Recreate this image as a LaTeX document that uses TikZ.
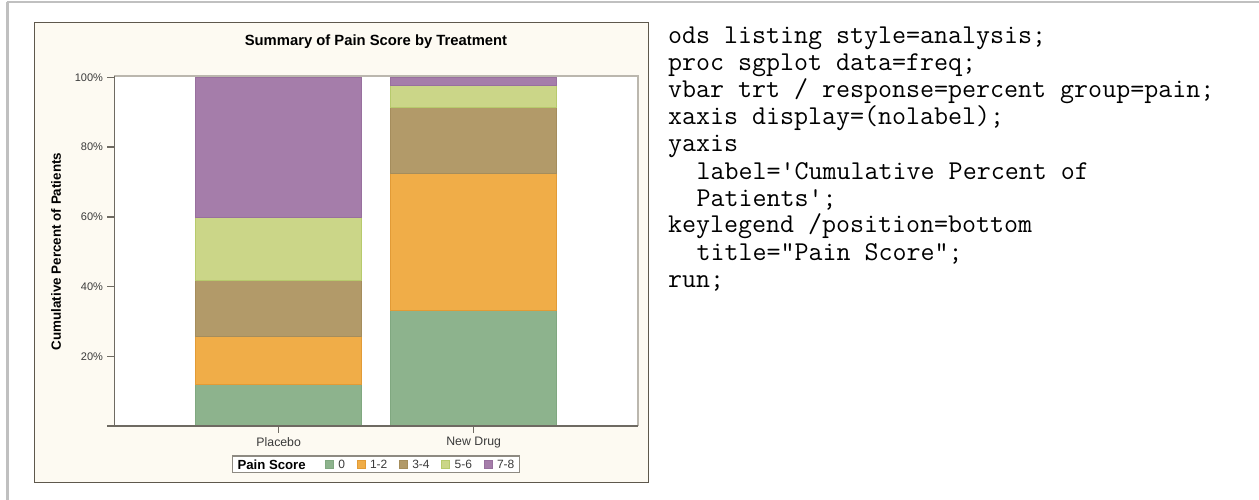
\documentclass[tikz,border=0pt]{standalone}
\usepackage{fontspec}
\setmainfont{Liberation Sans}
\setmonofont{Latin Modern Mono}
\definecolor{panelbg}{HTML}{FDFAF2}
\definecolor{panelline}{HTML}{5E584C}
\definecolor{framegray}{HTML}{C0C0C0}
\definecolor{axisgray}{HTML}{6E6A62}
\definecolor{walllight}{HTML}{BBB7AE}
\definecolor{tickgray}{HTML}{3A3A3A}
\definecolor{legline}{HTML}{8E8A82}
\definecolor{cA}{HTML}{8DB38D}\definecolor{cAb}{HTML}{80A880}
\definecolor{cB}{HTML}{F0AD48}\definecolor{cBb}{HTML}{E29B36}
\definecolor{cC}{HTML}{B29A69}\definecolor{cCb}{HTML}{A58D5C}
\definecolor{cD}{HTML}{CBD688}\definecolor{cDb}{HTML}{B7CA6C}
\definecolor{cE}{HTML}{A57DAA}\definecolor{cEb}{HTML}{98709E}
\begin{document}
\begin{tikzpicture}[x=1pt,y=-1pt,
  every node/.style={inner sep=0pt, outer sep=0pt},
  codeline/.style={anchor=base west, font=\ttfamily\fontsize{27.2}{27}\selectfont, text=black},
  ticklabel/.style={anchor=east, font=\fontsize{11}{13}\selectfont, text=tickgray},
  catlabel/.style={font=\fontsize{12.3}{14}\selectfont, text=tickgray},
  leglabel/.style={anchor=west, font=\fontsize{12}{14}\selectfont, text=tickgray},
  segA/.style={fill=cA, draw=cAb, line width=0.8pt},
  segB/.style={fill=cB, draw=cBb, line width=0.8pt},
  segC/.style={fill=cC, draw=cCb, line width=0.8pt},
  segD/.style={fill=cD, draw=cDb, line width=0.8pt},
  segE/.style={fill=cE, draw=cEb, line width=0.8pt},
  axisline/.style={draw=axisgray, line width=1.2pt},
]
\useasboundingbox (0,0) rectangle (1259,500);
\fill[white] (0,0) rectangle (1259,500);
% outer frame lines
\draw[framegray, line width=2.2pt] (6.5,1.7) -- (1259,1.7);
\draw[framegray, line width=2.2pt] (7.5,1.7) -- (7.5,500);
% panel
\draw[fill=panelbg, draw=panelline, line width=1.3pt] (34.3,22.7) rectangle (648.7,482.7);
\node[font=\bfseries\fontsize{14.8}{17}\selectfont] (title) at (376,42) {Summary of Pain Score by Treatment};
% plot wall
\fill[white] (114.3,76) rectangle (637.7,426);
\draw[walllight, line width=2pt] (114.3,76) -- (637.7,76) -- (637.7,426);
% bars: Placebo
\draw[segA] (195.7,426) rectangle (361.7,384);
\draw[segB] (195.7,384) rectangle (361.7,336);
\draw[segC] (195.7,336) rectangle (361.7,280);
\draw[segD] (195.7,280) rectangle (361.7,217.7);
\draw[segE] (195.7,217.7) rectangle (361.7,77.3);
% bars: New Drug
\draw[segA] (390.7,426) rectangle (556.7,310);
\draw[segB] (390.7,310) rectangle (556.7,173);
\draw[segC] (390.7,173) rectangle (556.7,107);
\draw[segD] (390.7,107) rectangle (556.7,85.7);
\draw[segE] (390.7,85.7) rectangle (556.7,77.3);
% axes
\draw[axisline] (114.3,76) -- (114.3,426) -- (637.7,426);
\foreach \yy in {77.3,147.1,216.9,286.6,356.4,426}{
  \draw[axisline] (107,\yy) -- (114.3,\yy);
}
\node[ticklabel] (t100) at (103,77.3) {100\%};
\node[ticklabel] (t80) at (103,147.1) {80\%};
\node[ticklabel] (t60) at (103,216.9) {60\%};
\node[ticklabel] (t40) at (103,286.6) {40\%};
\node[ticklabel] (t20) at (103,356.4) {20\%};
\draw[axisline] (278.7,426) -- (278.7,432.5);
\draw[axisline] (473.7,426) -- (473.7,432.5);
\node[catlabel] (placebo) at (278.7,442.5) {Placebo};
\node[catlabel] (newdrug) at (473.7,442.5) {New Drug};
\node[rotate=90, font=\bfseries\fontsize{13.4}{16}\selectfont] (ylab) at (56,251.5) {Cumulative Percent of Patients};
% legend
\draw[fill=white, draw=legline, line width=1.3pt] (232.5,456) rectangle (519.5,472.7);
\node[anchor=west, font=\bfseries\fontsize{13.2}{15}\selectfont] (legtitle) at (237.5,464.6) {Pain Score};
\draw[segA] (325.3,460.6) rectangle (333.3,468.6);
\node[leglabel] (lA) at (338.3,464.6) {0};
\draw[segB] (357,460.6) rectangle (365,468.6);
\node[leglabel] (lB) at (370,464.6) {1-2};
\draw[segC] (399.3,460.6) rectangle (407.3,468.6);
\node[leglabel] (lC) at (412.3,464.6) {3-4};
\draw[segD] (441.6,460.6) rectangle (449.6,468.6);
\node[leglabel] (lD) at (454.6,464.6) {5-6};
\draw[segE] (484,460.6) rectangle (492,468.6);
\node[leglabel] (lE) at (497,464.6) {7-8};
% code
\node[codeline] (c1) at (668,44) {ods listing style=analysis;};
\node[codeline] (c2) at (668,71) {proc sgplot data=freq;};
\node[codeline] (c3) at (668,98) {vbar trt / response=percent group=pain;};
\node[codeline] (c4) at (668,125) {xaxis display=(nolabel);};
\node[codeline] (c5) at (668,152) {yaxis};
\node[codeline] (c6) at (696.6,179) {label='Cumulative Percent of};
\node[codeline] (c7) at (696.6,206) {Patients';};
\node[codeline] (c8) at (668,233) {keylegend /position=bottom};
\node[codeline] (c9) at (696.6,260) {title="Pain Score";};
\node[codeline] (c10) at (668,287) {run;};
\end{tikzpicture}
\end{document}
